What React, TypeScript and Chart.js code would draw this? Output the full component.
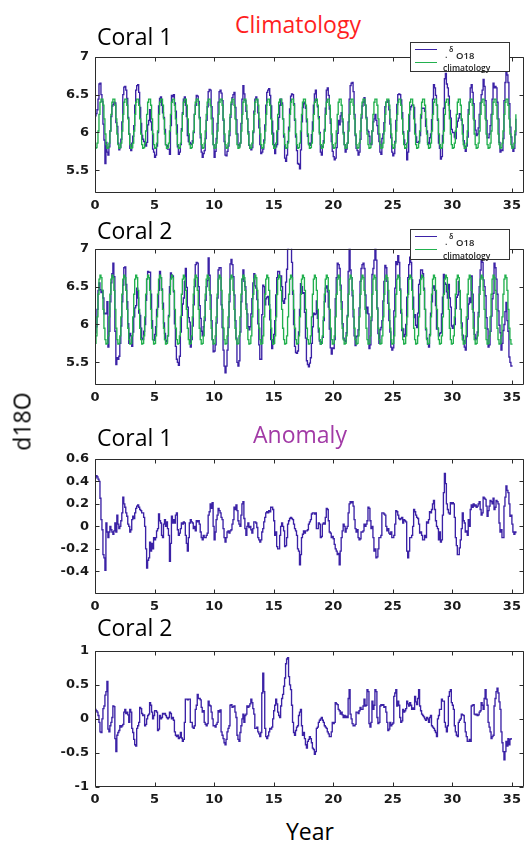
import React, { useEffect, useRef } from "react";
import { Chart, registerables } from "chart.js";

Chart.register(...registerables);

// ---------- data ----------
// 12-month climatology cycles (d18O), starting at month 0
const climatologyCycle1 = [5.79, 5.8, 5.86, 6.02, 6.24, 6.4, 6.44, 6.44, 6.36, 6.18, 5.98, 5.84];
const climatologyCycle2 = [5.75, 5.85, 6.1, 6.4, 6.6, 6.65, 6.62, 6.45, 6.2, 5.95, 5.8, 5.74];

// monthly anomalies, Coral 1 (month 0..424)
const anomaly1 = [
  0.43, 0.45, 0.44, 0.42, 0.4, 0.25, 0.06, -0.03, -0.25, -0.28, -0.39, 0.03,
  -0.05, -0.1, -0.05, 0.0, -0.03, -0.05, -0.07, -0.04, 0.03, -0.05, 0.1, 0.02,
  -0.02, 0.0, 0.05, 0.12, 0.26, 0.2, 0.17, 0.12, 0.09, 0.02, 0.0, -0.05,
  -0.03, 0.06, 0.09, 0.07, 0.12, 0.16, 0.18, 0.19, 0.17, 0.15, 0.14, 0.12,
  0.12, 0.08, 0.0, -0.2, -0.37, -0.3, -0.28, -0.14, -0.22, -0.15, -0.2, -0.1,
  -0.12, -0.1, -0.04, -0.02, 0.11, 0.05, 0.03, -0.08, -0.1, 0.02, 0.06, 0.0,
  0.04, -0.02, -0.08, -0.31, -0.15, 0.09, 0.03, 0.06, 0.03, 0.1, 0.12, -0.03,
  -0.08, -0.06, -0.02, 0.03, 0.02, 0.04, 0.03, -0.08, -0.15, -0.22, -0.1, 0.03,
  0.06, 0.04, 0.03, -0.02, 0.0, -0.04, 0.05, 0.04, 0.05, 0.02, -0.05, -0.1,
  -0.12, -0.08, -0.1, -0.1, -0.08, -0.06, 0.1, 0.13, 0.2, 0.16, 0.21, 0.0,
  -0.12, -0.05, 0.06, 0.1, 0.16, 0.14, 0.12, 0.08, 0.06, -0.02, -0.1, -0.14,
  -0.1, -0.05, -0.04, -0.06, -0.04, -0.03, 0.02, 0.06, 0.17, 0.15, 0.19, 0.14,
  0.05, 0.02, 0.0, 0.1, 0.2, 0.22, 0.07, -0.02, -0.08, 0.0, 0.03, -0.01,
  0.0, -0.03, -0.06, -0.02, 0.04, 0.04, 0.03, -0.01, -0.1, -0.12, -0.14, -0.12,
  -0.05, -0.02, 0.04, 0.08, 0.12, 0.13, 0.12, 0.14, 0.13, 0.17, 0.17, 0.15,
  0.05, -0.08, -0.05, -0.18, -0.2, -0.2, -0.08, 0.0, 0.03, 0.0, -0.04, -0.18,
  -0.17, -0.1, 0.02, 0.05, 0.07, 0.08, 0.07, 0.06, 0.02, -0.02, -0.04, -0.08,
  -0.2, -0.22, -0.34, -0.25, -0.1, -0.07, -0.04,
  -0.06, -0.04, -0.04, -0.03, 0.02, 0.04, 0.06, 0.11, 0.12, 0.12, 0.11, 0.12,
  -0.02, -0.02, 0.03, 0.02, -0.1, -0.09, 0.02, 0.03, 0.02, 0.08, 0.16, 0.15,
  0.05, -0.05, -0.06, -0.1, -0.09, -0.11, -0.16, -0.2, -0.22, -0.25, -0.24, -0.34,
  -0.22, -0.1, -0.04, 0.02, 0.0, -0.05, -0.02, 0.0, 0.12, 0.2, 0.22, 0.21,
  0.22, 0.18, 0.06, -0.02, -0.05, -0.03, -0.1, -0.12, -0.11, -0.05, -0.05, -0.04,
  0.02, 0.0, 0.02, 0.05, 0.17, 0.16, 0.05, -0.02, 0.0, -0.1, -0.22, -0.2,
  -0.28, -0.27, -0.2, -0.1, -0.1, -0.08, 0.12, 0.12, 0.11, 0.1, 0.0, -0.04,
  -0.02, -0.06, -0.07, -0.05, -0.1, -0.1, -0.08, 0.02, 0.14, 0.13, 0.1, 0.07,
  0.06, 0.07, 0.08, 0.03, 0.06, 0.05, 0.04, -0.22, -0.28, -0.22, -0.1, -0.1,
  -0.08, 0.0, 0.15, 0.13, 0.1, 0.08, 0.07, 0.02, -0.06, -0.05, -0.08, -0.12,
  -0.12, -0.08, -0.1, 0.04, 0.03, 0.06, 0.13, 0.12, 0.15, 0.2, 0.23, 0.15,
  0.05, 0.0, -0.02, -0.12, -0.05, -0.14, -0.12, 0.1, 0.3, 0.47, 0.38, 0.2,
  0.15, 0.12, 0.11, 0.21, 0.2, 0.21, 0.2, 0.08, -0.1, -0.17, -0.25, -0.25,
  -0.19, -0.12, -0.02, 0.12, 0.05, 0.03, -0.05, -0.04, -0.08, 0.06, 0.0, 0.15,
  0.19, 0.17, 0.2, 0.18, 0.19, 0.17, 0.18, 0.2, 0.22, 0.15, 0.1, 0.12,
  0.26, 0.25, 0.24, 0.18, 0.09, 0.14, 0.18, 0.23, 0.22, 0.2, 0.25, 0.15,
  0.17, 0.23, 0.22, 0.2, 0.03, -0.05, -0.03, -0.1, -0.1, 0.18, 0.26, 0.36,
  0.32, 0.3, 0.2, 0.09, 0.1, 0.02, -0.05, -0.07, -0.05, -0.06,
];

// monthly anomalies, Coral 2 (month 0..420)
const anomaly2 = [
  0.14, 0.12, 0.1, 0.05, -0.05, -0.19, -0.2, 0.0, 0.15, 0.19, 0.35, 0.4,
  0.55, -0.15, -0.19, -0.1, -0.05, 0.02, 0.19, 0.18, -0.29, -0.48, -0.24, -0.2,
  -0.17, -0.1, -0.12, -0.1, -0.08, 0.1, 0.14, 0.08, 0.1, 0.06, -0.05, 0.14,
  0.1, -0.14, -0.2, -0.3, -0.38, -0.4, -0.14, -0.1, -0.05, 0.17, 0.15, 0.08,
  0.05, 0.06, -0.1, -0.08, 0.0, 0.05, 0.07, 0.24, 0.2, 0.1, 0.0, 0.05,
  0.12, 0.12, 0.1, -0.17, -0.15, 0.05, 0.0, 0.02, 0.08, 0.07, 0.08, 0.05,
  0.02, 0.0, 0.02, 0.1, 0.08, 0.0, 0.02, -0.02, -0.19, -0.24, -0.26, -0.24,
  -0.29, -0.27, -0.2, -0.28, -0.33, -0.3, -0.05, 0.29, 0.29, 0.28, 0.29, 0.29,
  -0.05, -0.05, -0.12, -0.14, -0.1, 0.14, 0.2, 0.36, 0.3, 0.3, 0.28, 0.17,
  0.1, 0.12, -0.05, -0.08, -0.1, -0.07, 0.26, 0.2, 0.19, 0.1, 0.0, -0.1,
  -0.1, -0.12, -0.08, -0.05, 0.12, 0.1, 0.13, -0.19, -0.24, -0.29, -0.35, -0.38,
  -0.3, -0.19, -0.14, -0.1, 0.2, 0.21, 0.17, 0.18, 0.19, 0.1, 0.02, -0.24,
  -0.3, -0.33, -0.2, -0.1, 0.0, 0.07, -0.05, 0.05, 0.07, 0.19, 0.17, 0.19,
  0.22, 0.29, 0.24, 0.15, 0.07, -0.14, -0.14, -0.12, -0.19, -0.22, -0.26, -0.2,
  0.38, 0.67, 0.4, -0.14, -0.26, -0.29, -0.25, -0.19, -0.14, -0.15, -0.12, 0.0,
  0.12, 0.2, 0.29, 0.22, 0.1, 0.05, 0.02, 0.19, 0.3, 0.36, 0.48, 0.6,
  0.81, 0.88, 0.9, 0.62, 0.5, 0.43, 0.2, -0.05, -0.2, -0.24, -0.17, -0.12,
  -0.1, 0.05, 0.1, 0.14, -0.1, -0.24, -0.2,
  -0.29, -0.38, -0.43, -0.33, -0.3, -0.26, -0.29, -0.35, -0.43, -0.45, -0.52, -0.48,
  -0.14, -0.12, -0.05, -0.02, 0.0, 0.02, -0.02, -0.05, -0.1, -0.12, -0.14, -0.19,
  -0.22, -0.26, -0.26, -0.19, -0.05, -0.07, -0.05, 0.24, 0.22, 0.21, 0.14, 0.12,
  0.07, 0.1, 0.06, 0.02, 0.05, 0.02, 0.04, 0.02, 0.3, 0.43, 0.07, 0.0,
  -0.07, -0.1, -0.1, -0.08, 0.1, 0.1, 0.08, 0.12, 0.17, 0.14, 0.14, 0.19,
  0.29, 0.19, 0.2, 0.43, 0.4, -0.07, -0.12, -0.05, 0.26, 0.14, 0.2, 0.43,
  0.4, 0.02, -0.07, -0.05, 0.19, 0.21, 0.2, 0.21, 0.17, 0.18, 0.1, -0.05,
  -0.17, -0.15, -0.05, -0.1, -0.08, -0.06, 0.33, 0.38, 0.43, 0.19, 0.26, 0.2,
  0.02, -0.05, -0.03, 0.14, 0.1, 0.12, 0.15, 0.26, 0.22, 0.19, 0.24, 0.2,
  0.14, 0.16, 0.14, 0.33, 0.25, 0.21, 0.3, 0.43, 0.19, 0.12, 0.07, 0.05,
  0.03, 0.0, -0.02, 0.02, 0.0, -0.05, 0.02, 0.05, -0.1, -0.12, -0.14, -0.17,
  -0.2, -0.26, 0.0, 0.05, 0.14, 0.14, 0.29, 0.26, 0.26, -0.05, -0.12, -0.19,
  -0.1, 0.33, 0.4, 0.43, 0.24, 0.2, 0.14, -0.1, -0.19, -0.24, -0.26, -0.05,
  -0.02, 0.0, 0.07, 0.06, 0.05, -0.05, -0.19, -0.26, -0.33, -0.33, -0.3, -0.33,
  0.19, 0.2, 0.21, 0.07, 0.06, 0.07, 0.05, 0.06, 0.1, 0.12, 0.24, 0.2,
  0.14, 0.3, 0.43, 0.29, 0.2, -0.05, -0.12, -0.19, -0.29, -0.26, -0.24, 0.19,
  0.3, 0.4, 0.45, 0.38, 0.25, 0.14, -0.19, -0.35, -0.48, -0.6, -0.48, -0.33,
  -0.4, -0.29, -0.38, -0.3, -0.29, -0.29,
];

const xTickValues = [0, 5, 10, 15, 20, 25, 30, 35];
const yTicksClimatology = [5.5, 6, 6.5, 7];
const yTicksAnomaly1 = [-0.4, -0.2, 0, 0.2, 0.4, 0.6];
const yTicksAnomaly2 = [-1, -0.5, 0, 0.5, 1];

// ---------- styles ----------
const PURPLE = "#3b22a6";
const GREEN = "#22b04e";
const TITLE_FONT = "'Open Sans', 'DejaVu Sans', sans-serif";
const TICK_FONT = { family: "'DejaVu Sans', sans-serif", size: 13, weight: "bold" as const };

// ---------- helpers ----------
const monthX = (i: number) => i / 12;
const toPoints = (vals: number[]) => vals.map((v, i) => ({ x: monthX(i), y: v }));
const climatologySeries = (cycle: number[], n: number) =>
  Array.from({ length: n }, (_, i) => cycle[i % 12]);
const withClimatology = (anom: number[], cycle: number[]) =>
  anom.map((a, i) => Math.round((a + cycle[i % 12]) * 1000) / 1000);

const fmt = (v: number | string) => String(parseFloat(Number(v).toFixed(2)));

const lineDs = (label: string, vals: number[], color: string, order: number) => ({
  label,
  data: toPoints(vals),
  borderColor: color,
  backgroundColor: color,
  borderWidth: 1.35,
  pointRadius: 0,
  stepped: true,
  fill: false,
  order,
});

interface PanelProps {
  frameTop: number;
  frameBottom: number;
  yMin: number;
  yMax: number;
  yTicks: number[];
  datasets: any[];
}

const PAD_TOP = 10;
const AXIS_H = 26;

function Panel({ frameTop, frameBottom, yMin, yMax, yTicks, datasets }: PanelProps) {
  const ref = useRef<HTMLCanvasElement>(null);
  const height = frameBottom - frameTop + PAD_TOP + AXIS_H;

  useEffect(() => {
    if (!ref.current) return;
    const framePlugin = {
      id: "matlabFrame",
      afterDatasetsDraw(chart: any) {
        const { ctx, chartArea: a, scales } = chart;
        ctx.save();
        ctx.strokeStyle = "#2b2b2b";
        ctx.lineWidth = 1;
        const L = Math.round(a.left) + 0.5;
        const R = Math.round(a.right) - 0.5;
        const T = Math.round(a.top) + 0.5;
        const B = Math.round(a.bottom) - 0.5;
        ctx.beginPath();
        ctx.rect(L, T, R - L, B - T);
        const tl = 4;
        for (const v of xTickValues) {
          const x = Math.round(scales.x.getPixelForValue(v)) + 0.5;
          ctx.moveTo(x, B);
          ctx.lineTo(x, B - tl);
          ctx.moveTo(x, T);
          ctx.lineTo(x, T + tl);
        }
        for (const v of yTicks) {
          const y = Math.round(scales.y.getPixelForValue(v)) + 0.5;
          ctx.moveTo(L, y);
          ctx.lineTo(L + tl, y);
          ctx.moveTo(R, y);
          ctx.lineTo(R - tl, y);
        }
        ctx.stroke();
        ctx.restore();
      },
    };

    const chart = new Chart(ref.current, {
      type: "line",
      data: { datasets },
      options: {
        animation: false,
        responsive: false,
        maintainAspectRatio: false,
        events: [],
        layout: { padding: { top: PAD_TOP, right: 2, left: 0, bottom: 0 } },
        plugins: { legend: { display: false }, tooltip: { enabled: false } },
        scales: {
          x: {
            type: "linear",
            min: 0,
            max: 36,
            grid: { display: false, drawTicks: false },
            border: { display: false },
            afterBuildTicks: (axis: any) => {
              axis.ticks = xTickValues.map((v) => ({ value: v }));
            },
            afterFit: (s: any) => {
              s.height = AXIS_H;
            },
            ticks: {
              padding: 5,
              font: TICK_FONT,
              color: "#1a1a1a",
              maxRotation: 0,
              autoSkip: false,
              callback: (v: any) => fmt(v),
            },
          },
          y: {
            type: "linear",
            min: yMin,
            max: yMax,
            grid: { display: false, drawTicks: false },
            border: { display: false },
            afterBuildTicks: (axis: any) => {
              axis.ticks = yTicks.map((v) => ({ value: v }));
            },
            afterFit: (s: any) => {
              s.width = 95;
            },
            ticks: {
              padding: 6,
              font: TICK_FONT,
              color: "#1a1a1a",
              autoSkip: false,
              callback: (v: any) => fmt(v),
            },
          },
        },
      } as any,
      plugins: [framePlugin],
    });
    return () => chart.destroy();
  }, []);

  return (
    <canvas
      ref={ref}
      width={526}
      height={height}
      style={{ position: "absolute", left: 0, top: frameTop - PAD_TOP, width: 526, height }}
    />
  );
}

function Legend({ top, height }: { top: number; height: number }) {
  const txt: React.CSSProperties = {
    position: "absolute",
    fontFamily: TITLE_FONT,
    fontWeight: 600,
    color: "#222",
    whiteSpace: "nowrap",
  };
  return (
    <div
      style={{
        position: "absolute",
        left: 410,
        top,
        width: 100,
        height,
        border: "1px solid #333",
        background: "#fff",
        boxSizing: "border-box",
      }}
    >
      <div style={{ position: "absolute", left: 4, top: 6, width: 22, borderTop: `1.3px solid ${PURPLE}` }} />
      <div style={{ position: "absolute", left: 4, top: 19, width: 22, borderTop: `1.3px solid ${GREEN}` }} />
      <span style={{ ...txt, left: 34, top: 7, fontSize: 9, lineHeight: "9px" }}>.</span>
      <span style={{ ...txt, left: 38, top: 3, fontSize: 7, lineHeight: "7px" }}>δ</span>
      <span style={{ ...txt, left: 45, top: 8, fontSize: 9.5, lineHeight: "10px" }}>O18</span>
      <span style={{ ...txt, left: 32, top: height - 10, fontSize: 8.5, lineHeight: "9px" }}>climatology</span>
    </div>
  );
}

function Title({ text, left, top, color = "#000", center = false }: { text: string; left: number; top: number; color?: string; center?: boolean }) {
  return (
    <div
      style={{
        position: "absolute",
        left: center ? left - 100 : left,
        width: center ? 200 : undefined,
        textAlign: center ? "center" : "left",
        top,
        fontFamily: TITLE_FONT,
        fontSize: 23,
        lineHeight: "23px",
        color,
        whiteSpace: "nowrap",
      }}
    >
      {text}
    </div>
  );
}

export default function App() {
  const d18O1 = withClimatology(anomaly1, climatologyCycle1);
  const d18O2 = withClimatology(anomaly2, climatologyCycle2);
  const clim1 = climatologySeries(climatologyCycle1, anomaly1.length);
  const clim2 = climatologySeries(climatologyCycle2, anomaly2.length);

  return (
    <div
      style={{
        position: "absolute",
        left: 0,
        top: 0,
        width: 526,
        height: 843,
        overflow: "hidden",
        background: "#fff",
      }}
    >
      <Panel
        frameTop={53}
        frameBottom={193}
        yMin={5.2}
        yMax={7}
        yTicks={yTicksClimatology}
        datasets={[lineDs("δO18", d18O1, PURPLE, 1), lineDs("climatology", clim1, GREEN, 0)]}
      />
      <Panel
        frameTop={245}
        frameBottom={385}
        yMin={5.2}
        yMax={7}
        yTicks={yTicksClimatology}
        datasets={[lineDs("δO18", d18O2, PURPLE, 1), lineDs("climatology", clim2, GREEN, 0)]}
      />
      <Panel
        frameTop={455}
        frameBottom={594}
        yMin={-0.6}
        yMax={0.6}
        yTicks={yTicksAnomaly1}
        datasets={[lineDs("anomaly", anomaly1, PURPLE, 0)]}
      />
      <Panel
        frameTop={647}
        frameBottom={787}
        yMin={-1}
        yMax={1}
        yTicks={yTicksAnomaly2}
        datasets={[lineDs("anomaly", anomaly2, PURPLE, 0)]}
      />

      <Legend top={42} height={30} />
      <Legend top={229} height={31} />

      <Title text="Climatology" left={298} top={13} color="#ff1f1f" center />
      <Title text="Coral 1" left={97} top={24.6} />
      <Title text="Coral 2" left={97} top={219} />
      <Title text="Coral 1" left={97} top={425.6} />
      <Title text="Anomaly" left={300} top={423} color="#a23aa6" center />
      <Title text="Coral 2" left={97} top={615.6} />
      <Title text="Year" left={310} top={819.6} center />

      <div
        style={{
          position: "absolute",
          left: 22 - 40,
          top: 421 - 11.5,
          width: 80,
          height: 23,
          lineHeight: "23px",
          textAlign: "center",
          fontFamily: TITLE_FONT,
          fontSize: 23,
          color: "#000",
          transform: "rotate(-90deg)",
          whiteSpace: "nowrap",
        }}
      >
        d18O
      </div>
    </div>
  );
}
